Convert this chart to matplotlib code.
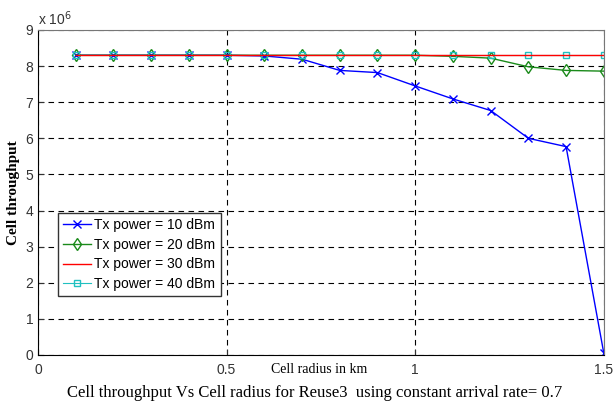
import numpy as np
import matplotlib.pyplot as plt

# cell radius in km
radius = [0.1, 0.2, 0.3, 0.4, 0.5, 0.6, 0.7, 0.8, 0.9, 1.0, 1.1, 1.2, 1.3, 1.4, 1.5]

# throughput values (x 1e6)
tp_10dbm = [8.3, 8.3, 8.3, 8.3, 8.3, 8.28, 8.19, 7.88, 7.82, 7.45, 7.09, 6.77, 6.0, 5.77, 0.05]
tp_20dbm = [8.3, 8.3, 8.3, 8.3, 8.3, 8.3, 8.3, 8.3, 8.3, 8.3, 8.27, 8.22, 7.98, 7.88, 7.86]
tp_30dbm = [8.3, 8.3, 8.3, 8.3, 8.3, 8.3, 8.3, 8.3, 8.3, 8.3, 8.3, 8.3, 8.3, 8.3, 8.3]
tp_40dbm = [8.3, 8.3, 8.3, 8.3, 8.3, 8.3, 8.3, 8.3, 8.3, 8.3, 8.3, 8.3, 8.3, 8.3, 8.3]

labels = ['Tx power = 10 dBm', 'Tx power = 20 dBm', 'Tx power = 30 dBm', 'Tx power = 40 dBm']

plt.rcParams['font.family'] = ['Liberation Sans', 'DejaVu Sans']

fig = plt.figure(figsize=(6.13, 4.05), dpi=100)
ax = fig.add_axes([0.062, 0.1235, 0.923, 0.8025])

scale = 1e6
ax.plot(radius, np.array(tp_10dbm) * scale, color='#0000ff', marker='x', markersize=6, lw=1, label=labels[0])
ax.plot(radius, np.array(tp_20dbm) * scale, color='#1a8a1a', marker='d', markersize=6, mfc='none', lw=1, label=labels[1])
ax.plot(radius, np.array(tp_30dbm) * scale, color='#ff0000', lw=1, label=labels[2], zorder=3)
ax.plot(radius, np.array(tp_40dbm) * scale, color='#20c0c0', marker='s', markersize=5, mfc='none', lw=0.8, label=labels[3], zorder=2.5)

ax.set_xlim(0, 1.5)
ax.set_ylim(0, 9e6)
ax.set_xticks([0, 0.5, 1, 1.5])
ax.set_xticklabels(['0', '0.5', '1', '1.5'])
ax.set_yticks(np.arange(0, 10) * scale)
ax.set_yticklabels([str(i) for i in range(10)])
ax.tick_params(direction='in', labelsize=10, colors='#333333', length=4)
ax.tick_params(axis='x', pad=6)
ax.grid(True, linestyle=(0, (5, 4)), color='black', lw=0.8)

for side in ['top', 'right']:
    ax.spines[side].set_color('#777777')

ax.text(0.0, 9.05e6, r'x 10$^6$', fontsize=10, color='#333333', ha='left', va='bottom')

ax.set_ylabel('Cell throughput', family='Liberation Serif', fontweight='bold', fontsize=11, labelpad=4)
fig.text(0.52, 0.078, 'Cell radius in km', family='Liberation Serif', fontsize=10, ha='center')
fig.text(0.513, 0.02, 'Cell throughput Vs Cell radius for Reuse3  using constant arrival rate= 0.7',
         family='Liberation Serif', fontsize=12, ha='center')

leg = ax.legend(loc='lower left', bbox_to_anchor=(0.035, 0.18), fontsize=10, fancybox=False,
                edgecolor='#333333', framealpha=1, borderpad=0.4, labelspacing=0.4,
                handlelength=2.0, handletextpad=0.2, borderaxespad=0)

fig.savefig('out.png', dpi=100)
